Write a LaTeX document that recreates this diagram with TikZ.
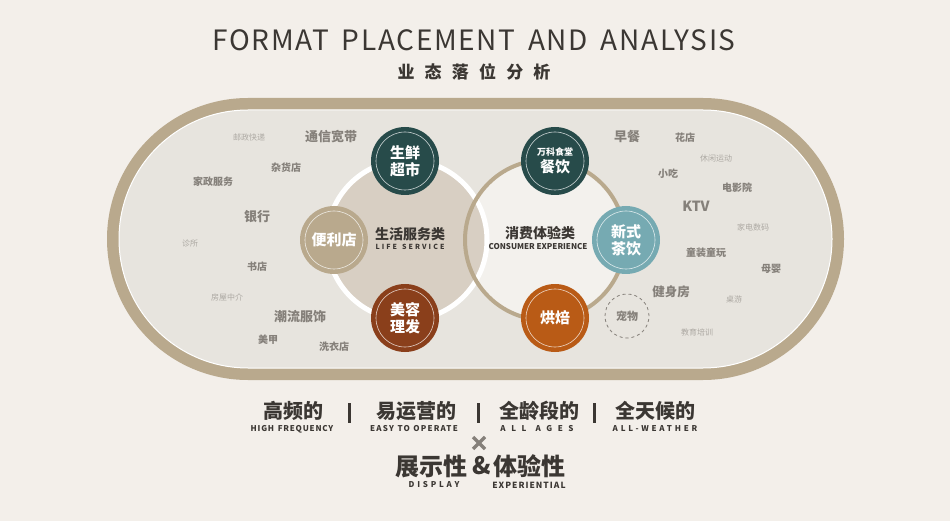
\documentclass[tikz,border=0pt]{standalone}
\usepackage{fontspec}
\setmainfont{Noto Sans CJK SC}
\definecolor{paper}{HTML}{F3EFEA}
\definecolor{band}{HTML}{B9A98D}
\definecolor{field}{HTML}{E7E4DE}
\definecolor{lifefill}{HTML}{D8CFC3}
\definecolor{usefill}{HTML}{F3F1ED}
\definecolor{ink}{HTML}{3B3733}
\definecolor{pine}{HTML}{274B4A}
\definecolor{rust}{HTML}{8A3F1B}
\definecolor{amber}{HTML}{B95B16}
\definecolor{aqua}{HTML}{76AAB2}
\definecolor{tagdark}{HTML}{85807A}
\definecolor{taglight}{HTML}{ADA9A3}
\newcommand{\track}[2]{{\addfontfeature{LetterSpace=#1}#2}}
\newcommand{\fsz}[1]{\fontsize{#1}{#1}\selectfont}
\newcommand{\gap}{\hspace{0.45em}}

\begin{document}
\begin{tikzpicture}[x=1pt, y=-1pt,
  hub/.style={circle, fill=#1, minimum size=68pt, inner sep=0pt, text=white, align=center,
    font=\bfseries\fontsize{15}{17}\selectfont,
    path picture={\draw[white!75!#1, line width=0.6pt] (path picture bounding box.center) circle (29pt);}},
  bigtag/.style={inner sep=0pt, text=tagdark, font=\bfseries\fsz{13}},
  midtag/.style={inner sep=0pt, text=tagdark, font=\bfseries\fsz{10}},
  smalltag/.style={inner sep=0pt, text=taglight, font=\fsz{8}},
  head/.style={inner sep=0pt, text=ink, font=\bfseries\fsz{14}},
  sub/.style={inner sep=0pt, text=ink, font=\bfseries\fsz{8}},
  trait/.style={inner sep=0pt, text=ink, font=\bfseries\fsz{20}},
  bar/.style={ink, line width=3pt}]
\useasboundingbox (0,0) rectangle (950,521);
\fill[paper] (0,0) rectangle (950,521);

% title
\node[inner sep=0pt, text=ink, font=\fsz{28}] (title) at (474,40) {\track{6}{FORMAT\gap PLACEMENT\gap AND\gap ANALYSIS}};
\node[inner sep=0pt, text=ink, font=\bfseries\fsz{17}] (subtitle) at (474,72) {\track{60}{业态落位分析}};

% stadium
\fill[band, rounded corners=141pt] (107,98) rectangle (844,380);
\draw[white, line width=1pt, fill=field, rounded corners=129pt] (119,110) rectangle (832,368);

% two rings
\coordinate (life) at (407,240);
\coordinate (use) at (545,240);
\fill[usefill] (use) circle (80pt);
\draw[white, line width=5pt, fill=lifefill] (life) circle (80pt);
\draw[band, line width=4pt] (use) circle (80pt);

\node[head] (lifehead) at (410,234) {生活服务类};
\node[sub, font=\bfseries\fsz{7}] (lifesub) at (410,247) {\track{30}{LIFE\hspace{5pt}SERVICE}};
\node[head] (usehead) at (540,233) {消费体验类};
\node[sub] (usesub) at (538,247) {CONSUMER EXPERIENCE};

% hubs
\node[hub=pine] (fresh) at (405,161) {生鲜\\超市};
\node[hub=band] (store) at (334,240) {便利店};
\node[hub=rust] (beauty) at (405,318) {美容\\理发};
\node[hub=pine] (canteen) at (555,161) {{\fsz{9}万科食堂}\\餐饮};
\node[hub=aqua] (tea) at (626,240) {新式\\茶饮};
\node[hub=amber] (bakery) at (555,318) {烘焙};

% left tags
\node[smalltag] (post) at (249,137) {邮政快递};
\node[bigtag] (net) at (331,137) {通信宽带};
\node[midtag] (grocery) at (286,168) {杂货店};
\node[midtag] (house) at (213,182) {家政服务};
\node[bigtag] (bank) at (257,217) {银行};
\node[smalltag] (clinic) at (190,243) {诊所};
\node[midtag] (book) at (257,267) {书店};
\node[smalltag] (agent) at (227,297) {房屋中介};
\node[bigtag] (fashion) at (300,317) {潮流服饰};
\node[midtag] (nail) at (268,340) {美甲};
\node[midtag] (laundry) at (334,347) {洗衣店};

% right tags
\node[bigtag] (breakfast) at (627,137) {早餐};
\node[midtag] (flower) at (685,138) {花店};
\node[smalltag] (sport) at (716,159) {休闲运动};
\node[midtag] (snack) at (668,174) {小吃};
\node[midtag] (cinema) at (737,188) {电影院};
\node[bigtag, font=\bfseries\fsz{14}] (ktv) at (696,206) {KTV};
\node[smalltag] (digital) at (753,227) {家电数码};
\node[midtag] (toys) at (706,253) {童装童玩};
\node[midtag] (baby) at (771,269) {母婴};
\node[bigtag, font=\bfseries\fsz{12.5}] (gym) at (671,292) {健身房};
\node[smalltag] (board) at (734,299) {桌游};
\node[midtag, circle, draw=tagdark, dashed, line width=0.8pt, minimum size=44pt, font=\bfseries\fsz{11}] (pet) at (627,316) {宠物};
\node[smalltag] (edu) at (697,332) {教育培训};

% traits
\node[trait] (freq) at (293,411) {高频的};
\node[sub] (freqsub) at (292,429) {\track{10}{HIGH\gap FREQUENCY}};
\node[trait] (easy) at (416,411) {易运营的};
\node[sub] (easysub) at (414,429) {\track{15}{EASY\gap TO\gap OPERATE}};
\node[trait] (ages) at (539,411) {全龄段的};
\node[sub] (agessub) at (537,429) {\track{70}{ALL\hspace{9pt}AGES}};
\node[trait] (weather) at (655,411) {全天候的};
\node[sub] (weathersub) at (655,429) {\track{35}{ALL-WEATHER}};
\draw[bar] (349,403) -- (349,423);
\draw[bar] (478,403) -- (478,423);
\draw[bar] (594,403) -- (594,423);
\draw[tagdark, line width=3.5pt] (473,437) -- (485,449) (473,449) -- (485,437);
\node[trait, font=\bfseries\fsz{24}] (display) at (431,466) {展示性};
\node[trait, font=\bfseries\fsz{24}] (amp) at (482,466) {\&};
\node[trait, font=\bfseries\fsz{24}] (exp) at (529,466) {体验性};
\node[sub] (dispsub) at (434,485) {\track{35}{DISPLAY}};
\node[sub, font=\bfseries\fsz{8.5}] (expsub) at (529,485) {\track{12}{EXPERIENTIAL}};
\end{tikzpicture}
\end{document}
